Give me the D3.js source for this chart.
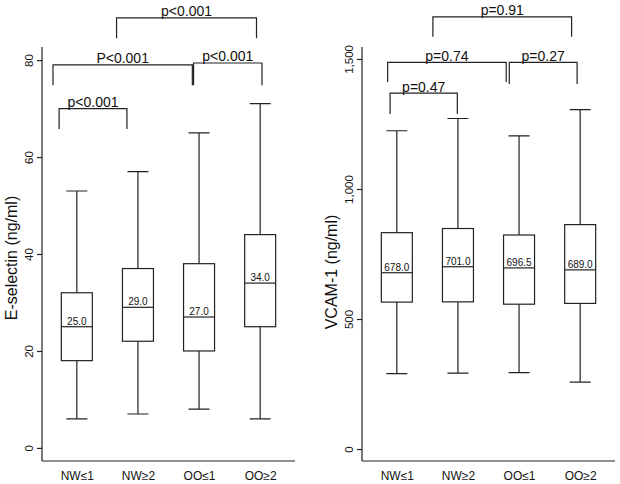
<!DOCTYPE html>
<meta charset="utf-8">
<style>
body { margin: 0; background: #fff; }
text { font-family: Arial, "Liberation Sans", Helvetica, sans-serif; fill: #111; }
.box, .wh, .br { fill: none; stroke: #222; stroke-width: 1.2px; }
</style>
<body>
<script src="https://d3js.org/d3.v7.min.js"></script>
<script>

// groups on the x axis
var groups = ["NW\u22641", "NW\u22652", "OO\u22641", "OO\u22652"];

// E-selectin (ng/ml) boxes
var eselLow    = [6, 7, 8, 6];
var eselQ1     = [18, 22, 20, 25];
var eselMedian = [25, 29, 27, 34];
var eselQ3     = [32, 37, 38, 44];
var eselHigh   = [53, 57, 65, 71];
var eselTicks  = [0, 20, 40, 60, 80];

// VCAM-1 (ng/ml) boxes
var vcamLow    = [290, 292, 294, 257];
var vcamQ1     = [565, 566, 557, 560];
var vcamMedian = [678, 701, 696.5, 689];
var vcamQ3     = [832, 848, 823, 863];
var vcamHigh   = [1224, 1271, 1204, 1305];
var vcamTicks  = [0, 500, 1000, 1500];

// comparison brackets: from group, to group, label
var eselPairs = [[0, 1, "p<0.001"], [0, 2, "P<0.001"], [2, 3, "p<0.001"], [1, 3, "p<0.001"]];
var vcamPairs = [[0, 1, "p=0.47"], [0, 2, "p=0.74"], [2, 3, "p=0.27"], [1, 3, "p=0.91"]];

var w = 620, h = 484;

var svg = d3.select("body").append("svg")
    .attr("width", w)
    .attr("height", h);

function panel(opt) {
    var x = d3.scalePoint().domain(groups).range([opt.left, opt.right]).padding(0.57);
    var y = d3.scaleLinear().domain(opt.domain).range([461, 47]);
    var step = x.step();
    var g = svg.append("g");

    // axes drawn R style: open L box
    var yAxis = d3.axisLeft(y).tickValues(opt.ticks).tickSize(5).tickFormat(opt.fmt);
    var ya = g.append("g").attr("transform", "translate(" + opt.left + ",0)").call(yAxis);
    ya.select(".domain").attr("d", "M0," + y.range()[0] + "V" + y.range()[1]);
    ya.selectAll(".tick text")
        .attr("transform", "rotate(-90)")
        .attr("x", 0).attr("y", -13)
        .attr("dy", "0.35em")
        .style("text-anchor", "middle")
        .style("font-size", "11.5px")
        .style("font-family", "Arial, 'Liberation Sans', sans-serif");

    var xAxis = d3.axisBottom(x).tickSize(0).tickPadding(10);
    var xa = g.append("g").attr("transform", "translate(0,461)").call(xAxis);
    xa.select(".domain").attr("d", "M" + opt.left + ",0H" + opt.right);
    xa.selectAll(".tick text")
        .style("font-size", "12px")
        .style("font-family", "Arial, 'Liberation Sans', sans-serif");
    g.selectAll(".domain, .tick line").attr("stroke", "#222").attr("stroke-width", 1.2);

    g.append("text")
        .attr("transform", "translate(" + (opt.left - 31) + "," + opt.titleY + ") rotate(-90)")
        .attr("text-anchor", "middle")
        .attr("dy", "0.35em")
        .style("font-size", "16px")
        .text(opt.title);

    var bw = 31, cw = 21;
    var idx = d3.range(groups.length);
    var items = g.selectAll(".item").data(idx).enter().append("g");

    // whiskers
    items.append("path").attr("class", "wh")
        .attr("d", function(i) {
            var cx = x(groups[i]);
            return "M" + cx + "," + y(opt.q3[i]) + "V" + y(opt.high[i]) +
                   "M" + (cx - cw / 2) + "," + y(opt.high[i]) + "H" + (cx + cw / 2) +
                   "M" + cx + "," + y(opt.q1[i]) + "V" + y(opt.low[i]) +
                   "M" + (cx - cw / 2) + "," + y(opt.low[i]) + "H" + (cx + cw / 2);
        });
    items.append("rect").attr("class", "box")
        .attr("x", function(i) { return x(groups[i]) - bw / 2; })
        .attr("width", bw)
        .attr("y", function(i) { return y(opt.q3[i]); })
        .attr("height", function(i) { return y(opt.q1[i]) - y(opt.q3[i]); });
    items.append("line").attr("class", "wh")
        .attr("x1", function(i) { return x(groups[i]) - bw / 2; })
        .attr("x2", function(i) { return x(groups[i]) + bw / 2; })
        .attr("y1", function(i) { return y(opt.med[i]); })
        .attr("y2", function(i) { return y(opt.med[i]); });
    items.append("text")
        .attr("x", function(i) { return x(groups[i]); })
        .attr("y", function(i) { return y(opt.med[i]) - 2; })
        .attr("text-anchor", "middle")
        .style("font-size", "10px")
        .text(function(i) { return opt.med[i].toFixed(1); });

    // brackets
    var bx = function(t) { return x(groups[0]) + t * step; };
    opt.brackets.forEach(function(b, k) {
        var p = opt.pairs[k];
        var x0 = bx(b[0]), x1 = bx(b[1]);
        g.append("path").attr("class", "br")
            .attr("d", "M" + x0 + "," + y(b[3]) + "V" + y(b[2]) + "H" + x1 + "V" + y(b[3]));
        g.append("text")
            .attr("x", (x0 + x1) / 2)
            .attr("y", y(b[2]) - 1.5)
            .attr("text-anchor", "middle")
            .style("font-size", "14px")
            .text(p[2]);
    });
}

// bracket positions: start/end in group steps, bar level, leg end (data units)
panel({
    left: 42, right: 295, domain: [-2.7, 82.7], ticks: eselTicks, fmt: d3.format("d"),
    title: "E-selectin (ng/ml)", titleY: 258,
    low: eselLow, q1: eselQ1, med: eselMedian, q3: eselQ3, high: eselHigh,
    pairs: eselPairs,
    brackets: [[-0.29, 0.82, 70, 65.8], [-0.39, 1.89, 79, 74.8], [1.91, 3.03, 79.4, 74.8], [0.65, 2.94, 88.7, 84.5]]
});

panel({
    left: 362, right: 615, domain: [-46, 1546], ticks: vcamTicks, fmt: d3.format(","),
    title: "VCAM-1 (ng/ml)", titleY: 272,
    low: vcamLow, q1: vcamQ1, med: vcamMedian, q3: vcamQ3, high: vcamHigh,
    pairs: vcamPairs,
    brackets: [[-0.11, 0.99, 1369, 1288], [-0.15, 1.79, 1487, 1411], [1.84, 2.95, 1487, 1404], [0.59, 2.86, 1662, 1585]]
});

</script>
</body>
